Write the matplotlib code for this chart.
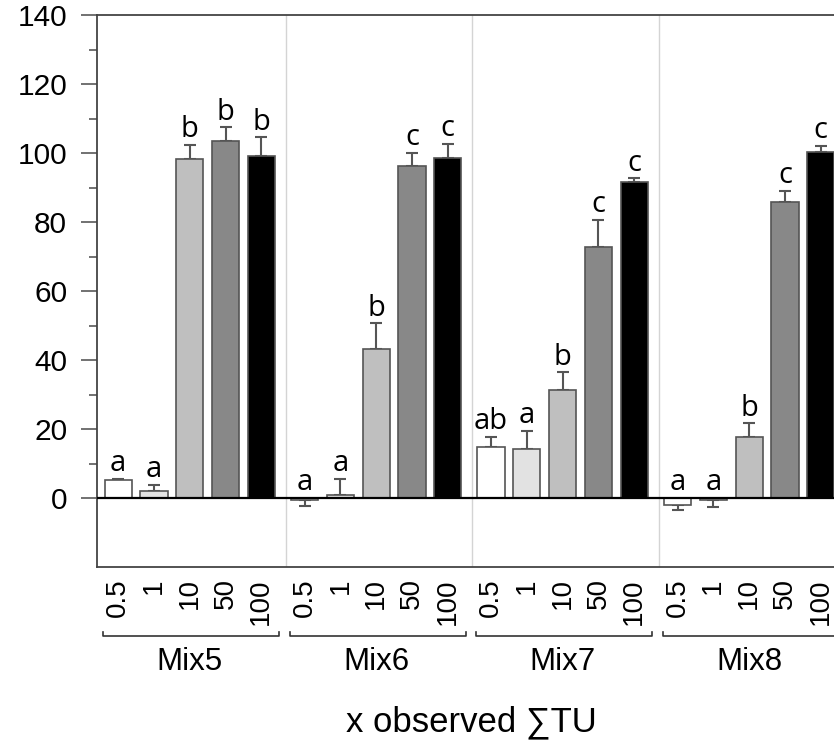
import numpy as np
import matplotlib
matplotlib.use("Agg")
import matplotlib.pyplot as plt
import matplotlib.transforms as mtransforms

# data
mixes = ["Mix5", "Mix6", "Mix7", "Mix8"]
doses = ["0.5", "1", "10", "50", "100"]
values = [
    [5.1, 2.0, 98.3, 103.5, 99.1],
    [-0.5, 0.8, 43.1, 96.1, 98.5],
    [14.9, 14.3, 31.4, 72.8, 91.5],
    [-1.9, -0.5, 17.6, 85.8, 100.3],
]
errors = [
    [0.5, 1.9, 4.0, 3.9, 5.4],
    [1.7, 4.7, 7.5, 3.9, 4.1],
    [2.8, 5.2, 5.0, 7.8, 1.2],
    [1.5, 2.0, 4.1, 3.3, 1.8],
]
letters = [
    ["a", "a", "b", "b", "b"],
    ["a", "a", "b", "c", "c"],
    ["ab", "a", "b", "c", "c"],
    ["a", "a", "b", "c", "c"],
]
dose_colors = ["#ffffff", "#e2e2e2", "#bfbfbf", "#888888", "#000000"]

plt.rcParams["font.family"] = ["Liberation Sans", "DejaVu Sans"]

fig = plt.figure(figsize=(8.34, 7.43), dpi=100)
ax = fig.add_axes([97 / 834, 1 - 567 / 743, 1 - 97 / 834, (567 - 15) / 743])

group_step = 5.21
edge = "#555555"

xt, xl = [], []
for g, mix in enumerate(mixes):
    x0 = g * group_step
    xs = x0 + np.arange(len(doses))
    for j, x in enumerate(xs):
        v = values[g][j]
        e = errors[g][j]
        ax.bar(x, v, width=0.76, color=dose_colors[j], edgecolor=edge,
               linewidth=1.2, zorder=3)
        if v >= 0:
            ax.errorbar(x, v, yerr=[[0], [e]], fmt="none", ecolor=edge,
                        elinewidth=1.5, capsize=4, capthick=1.5, zorder=2)
            top = v + e
        else:
            ax.errorbar(x, v, yerr=[[e], [0]], fmt="none", ecolor=edge,
                        elinewidth=1.5, capsize=4, capthick=1.5, zorder=2)
            top = 0
        ax.text(x, top + 2.2, letters[g][j], ha="center", va="baseline",
                fontsize=21, family=["Open Sans", "DejaVu Sans"], zorder=5)
        xt.append(x)
        xl.append(doses[j])
    if g > 0:
        ax.axvline(x0 - 0.52, color="#d4d4d4", linewidth=1.0, zorder=1)

    # group bracket under the tick labels
    trans = mtransforms.blended_transform_factory(ax.transData, ax.transAxes)
    bx = [x0 - 0.42, x0 - 0.42, x0 + 4.5, x0 + 4.5]
    by = [-0.117, -0.125, -0.125, -0.117]
    ax.plot(bx, by, color="#333333", linewidth=1.2, transform=trans,
            clip_on=False)
    ax.text(x0 + 2, -0.172, mix, transform=trans, ha="center", va="center",
            fontsize=22.5)

ax.axhline(0, color="black", linewidth=1.6, zorder=4)

ax.set_xlim(-0.59, 20.0)
ax.set_ylim(-20, 140)
ax.set_yticks(np.arange(0, 141, 20))
ax.set_yticks(np.arange(10, 140, 20), minor=True)
ax.set_xticks(xt)
ax.set_xticklabels(xl, rotation=90, fontsize=20)
ax.tick_params(axis="x", length=0, pad=8)
ax.tick_params(axis="y", which="major", length=11.5, width=1.3,
               color="#666666", labelsize=21.5, pad=10)
ax.tick_params(axis="y", which="minor", length=5.8, width=1.3,
               color="#666666")

for s in ["left", "bottom", "top"]:
    ax.spines[s].set_color("#444444")
    ax.spines[s].set_linewidth(1.3)
ax.spines["right"].set_visible(False)

fig.text(471 / 834, 1 - 722 / 743, "x observed \u2211TU", ha="center",
         va="center", fontsize=25)

fig.savefig("out.png", dpi=100)
